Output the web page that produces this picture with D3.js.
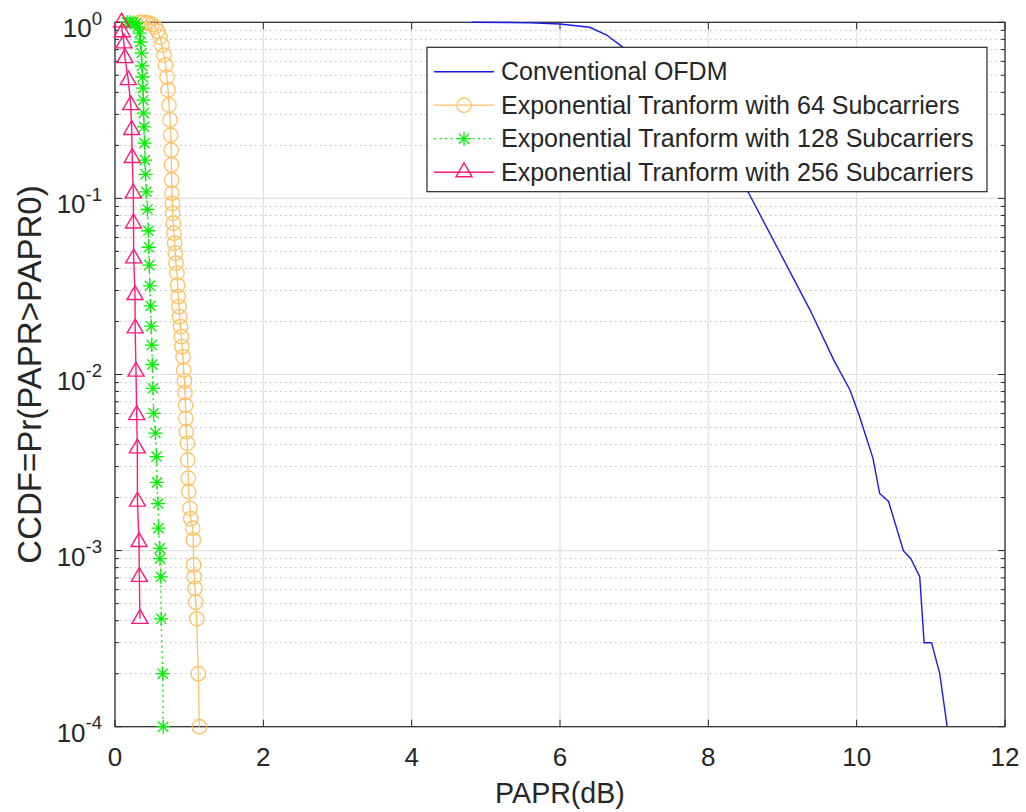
<!DOCTYPE html>
<html>
<head>
<meta charset="utf-8">
<script src="https://cdn.jsdelivr.net/npm/d3@7"></script>
<style>
  body { margin: 0; background: #fff; }
  svg { display: block; font-family: "Liberation Sans", Arial, Helvetica, sans-serif; }
</style>
</head>
<body>
<svg id="chart"></svg>
<script>
// values
const paprOfdm = [4.81, 5.3, 5.6, 6.0, 6.4, 6.63, 6.85, 7.2, 7.6, 8.0, 8.3, 8.54, 8.97, 9.37, 9.69, 9.91, 10.04, 10.22, 10.31, 10.43, 10.63, 10.73, 10.85, 10.91, 11.01, 11.12, 11.22];
const ccdfOfdm = [1, 0.998, 0.992, 0.978, 0.937, 0.847, 0.72, 0.55, 0.36, 0.22, 0.15, 0.108, 0.0488, 0.0233, 0.0121, 0.00817, 0.00576, 0.00334, 0.00211, 0.0019, 0.001, 0.0009, 0.00071, 0.0003, 0.0003, 0.0002, 0.0001];

const papr64 = [0.337, 0.378, 0.418, 0.458, 0.499, 0.539, 0.573, 0.607, 0.634, 0.661, 0.681, 0.701, 0.715, 0.728, 0.742, 0.751, 0.758, 0.762, 0.764, 0.768, 0.773, 0.778, 0.786, 0.795, 0.805, 0.813, 0.822, 0.836, 0.845, 0.853, 0.863, 0.872, 0.883, 0.894, 0.903, 0.917, 0.926, 0.937, 0.944, 0.951, 0.955, 0.961, 0.975, 0.980, 0.988, 0.994, 1.011, 1.021, 1.048, 1.056, 1.060, 1.069, 1.079, 1.088, 1.102, 1.123, 1.137];
const ccdf64 = [1, 1, 0.997, 0.991, 0.972, 0.94, 0.893, 0.825, 0.743, 0.652, 0.572, 0.489, 0.413, 0.339, 0.279, 0.229, 0.188, 0.155, 0.127, 0.107, 0.0938, 0.0823, 0.0723, 0.0635, 0.0557, 0.0489, 0.0429, 0.0377, 0.0322, 0.0277, 0.0243, 0.0213, 0.0187, 0.0164, 0.0144, 0.0126, 0.0106, 0.0092, 0.0079, 0.0067, 0.00564, 0.00473, 0.00407, 0.00327, 0.00258, 0.00216, 0.00174, 0.00152, 0.00134, 0.00115, 0.00083, 0.00071, 0.00061, 0.00051, 0.00041, 0.0002, 0.0001];

const papr128 = [0.162, 0.202, 0.243, 0.283, 0.310, 0.330, 0.344, 0.357, 0.364, 0.371, 0.378, 0.382, 0.387, 0.391, 0.398, 0.404, 0.411, 0.421, 0.438, 0.449, 0.455, 0.462, 0.470, 0.480, 0.488, 0.496, 0.503, 0.512, 0.520, 0.545, 0.560, 0.566, 0.580, 0.586, 0.604, 0.607, 0.618, 0.622, 0.643, 0.650];
const ccdf128 = [1, 1, 0.997, 0.984, 0.94, 0.869, 0.773, 0.669, 0.565, 0.489, 0.423, 0.361, 0.305, 0.255, 0.206, 0.165, 0.137, 0.109, 0.0865, 0.0655, 0.0528, 0.0418, 0.0319, 0.0245, 0.0188, 0.0147, 0.0114, 0.00835, 0.00602, 0.00465, 0.00342, 0.00244, 0.00185, 0.00134, 0.00103, 0.0009, 0.00071, 0.00041, 0.0002, 0.0001];

const papr256 = [0.088, 0.098, 0.121, 0.135, 0.179, 0.212, 0.225, 0.233, 0.247, 0.249, 0.252, 0.270, 0.272, 0.283, 0.293, 0.301, 0.303, 0.324, 0.328, 0.337];
const ccdf256 = [1, 0.88, 0.76, 0.627, 0.47, 0.339, 0.245, 0.17, 0.107, 0.0722, 0.0457, 0.0283, 0.0183, 0.0104, 0.00589, 0.00381, 0.0019, 0.00112, 0.00071, 0.00041];

const xTicks = [0, 2, 4, 6, 8, 10, 12];
const yExponents = [0, -1, -2, -3, -4];
const seriesNames = [
    'Conventional OFDM',
    'Exponential Tranform with 64 Subcarriers',
    'Exponential Tranform with 128 Subcarriers',
    'Exponential Tranform with 256 Subcarriers'
];
const xLabel = 'PAPR(dB)';
const yLabel = 'CCDF=Pr(PAPR>PAPR0)';

// matlab style '*' marker: plus and cross together
const symbolStar = {
    draw(context, size) {
        const r = Math.sqrt(size) / 2;
        const a = r * 0.72;
        context.moveTo(-r, 0); context.lineTo(r, 0);
        context.moveTo(0, -r); context.lineTo(0, r);
        context.moveTo(-a, -a); context.lineTo(a, a);
        context.moveTo(-a, a); context.lineTo(a, -a);
    }
};

const width = 1026, height = 812;
const margin = {top: 22.3, right: 21, bottom: 85.3, left: 115};
const axisColor = '#262626';

const series = [
    {name: seriesNames[0], xs: paprOfdm, ys: ccdfOfdm, color: '#1a1ae8', dash: null, symbol: null, size: 0, lw: 1.4},
    {name: seriesNames[1], xs: papr64, ys: ccdf64, color: '#ffc064', dash: null, symbol: d3.symbolCircle, size: Math.PI * 52, lw: 1.3},
    {name: seriesNames[2], xs: papr128, ys: ccdf128, color: '#00f000', dash: '2,3.5', symbol: symbolStar, size: 200, lw: 1.3},
    {name: seriesNames[3], xs: papr256, ys: ccdf256, color: '#ff1a78', dash: null, symbol: d3.symbolTriangle, size: 111, lw: 1.4}
];

const svg = d3.select('#chart')
    .attr('width', width)
    .attr('height', height);

const x = d3.scaleLinear().domain([0, 12]).range([margin.left, width - margin.right]);
const y = d3.scaleLog().domain([1e-4, 1]).range([height - margin.bottom, margin.top]);

const isDecade = v => Math.abs(Math.log10(v) - Math.round(Math.log10(v))) < 1e-9;
const majorY = y.ticks().filter(isDecade);
const minorY = y.ticks().filter(v => !isDecade(v));

// grid
const grid = svg.append('g');
grid.selectAll('.minor')
    .data(minorY)
    .enter().append('line')
    .attr('x1', x(0)).attr('x2', x(12))
    .attr('y1', d => y(d)).attr('y2', d => y(d))
    .attr('stroke', '#bcbcbc')
    .attr('stroke-width', 1)
    .attr('stroke-dasharray', '1.5,3.5');
grid.selectAll('.majory')
    .data(majorY)
    .enter().append('line')
    .attr('x1', x(0)).attr('x2', x(12))
    .attr('y1', d => y(d)).attr('y2', d => y(d))
    .attr('stroke', '#e0e0e0')
    .attr('stroke-width', 1.2);
grid.selectAll('.majorx')
    .data(xTicks)
    .enter().append('line')
    .attr('x1', d => x(d)).attr('x2', d => x(d))
    .attr('y1', y(1)).attr('y2', y(1e-4))
    .attr('stroke', '#e0e0e0')
    .attr('stroke-width', 1.2);

// box and ticks
const axes = svg.append('g').attr('stroke', axisColor);
axes.append('rect')
    .attr('x', x(0)).attr('y', y(1))
    .attr('width', x(12) - x(0)).attr('height', y(1e-4) - y(1))
    .attr('fill', 'none')
    .attr('stroke-width', 1.2);
xTicks.forEach(t => {
    axes.append('line').attr('x1', x(t)).attr('x2', x(t)).attr('y1', y(1e-4)).attr('y2', y(1e-4) - 7);
    axes.append('line').attr('x1', x(t)).attr('x2', x(t)).attr('y1', y(1)).attr('y2', y(1) + 7);
});
y.ticks().forEach(t => {
    const len = isDecade(t) ? 7 : 4;
    axes.append('line').attr('x1', x(0)).attr('x2', x(0) + len).attr('y1', y(t)).attr('y2', y(t));
    axes.append('line').attr('x1', x(12)).attr('x2', x(12) - len).attr('y1', y(t)).attr('y2', y(t));
});

// tick labels
svg.append('g').selectAll('text')
    .data(xTicks)
    .enter().append('text')
    .attr('x', d => x(d))
    .attr('y', y(1e-4) + 39.5)
    .attr('text-anchor', 'middle')
    .attr('fill', axisColor)
    .style('font-size', '26px')
    .text(d => d);

const ylabels = svg.append('g').selectAll('text')
    .data(yExponents)
    .enter().append('text')
    .attr('x', x(0) - 13)
    .attr('y', d => y(Math.pow(10, d)) + 15)
    .attr('text-anchor', 'end')
    .attr('fill', axisColor)
    .style('font-size', '26px');
ylabels.append('tspan').text('10');
ylabels.append('tspan')
    .attr('dy', -12.3)
    .style('font-size', '18.5px')
    .text(d => d);

// axis titles
svg.append('text')
    .attr('x', (x(0) + x(12)) / 2)
    .attr('y', 803)
    .attr('text-anchor', 'middle')
    .attr('fill', axisColor)
    .style('font-size', '28.6px')
    .text(xLabel);
svg.append('text')
    .attr('transform', `translate(41, ${(y(1) + y(1e-4)) / 2}) rotate(-90)`)
    .attr('text-anchor', 'middle')
    .attr('fill', axisColor)
    .style('font-size', '33px')
    .text(yLabel);

// curves
const line = d3.line()
    .x(d => x(d[0]))
    .y(d => y(d[1]));

series.forEach(s => {
    const pts = s.xs.map((v, i) => [v, s.ys[i]]);
    svg.append('path')
        .datum(pts)
        .attr('d', line)
        .attr('fill', 'none')
        .attr('stroke', s.color)
        .attr('stroke-width', s.lw)
        .attr('stroke-dasharray', s.dash);
    if (s.symbol) {
        svg.append('g').selectAll('path')
            .data(pts)
            .enter().append('path')
            .attr('transform', d => `translate(${x(d[0])},${y(d[1])})`)
            .attr('d', d3.symbol(s.symbol, s.size))
            .attr('fill', 'none')
            .attr('stroke', s.color)
            .attr('stroke-width', s.lw);
    }
});

// legend
const legend = svg.append('g').attr('transform', 'translate(427, 47.3)');
legend.append('rect')
    .attr('width', 560)
    .attr('height', 144.4)
    .attr('fill', '#fff')
    .attr('stroke', axisColor)
    .attr('stroke-width', 1.2);
const rows = legend.selectAll('.row')
    .data(series)
    .enter().append('g')
    .attr('transform', (d, i) => `translate(0, ${24.4 + i * 33.5})`);
rows.append('line')
    .attr('x1', 7).attr('x2', 67)
    .attr('stroke', d => d.color)
    .attr('stroke-width', d => d.lw)
    .attr('stroke-dasharray', d => d.dash);
rows.filter(d => d.symbol)
    .append('path')
    .attr('transform', 'translate(37,0)')
    .attr('d', d => d3.symbol(d.symbol, d.size)())
    .attr('fill', 'none')
    .attr('stroke', d => d.color)
    .attr('stroke-width', d => d.lw);
rows.append('text')
    .attr('x', 74)
    .attr('y', 8.7)
    .attr('fill', axisColor)
    .style('font-size', '25px')
    .text(d => d.name);
</script>
</body>
</html>
